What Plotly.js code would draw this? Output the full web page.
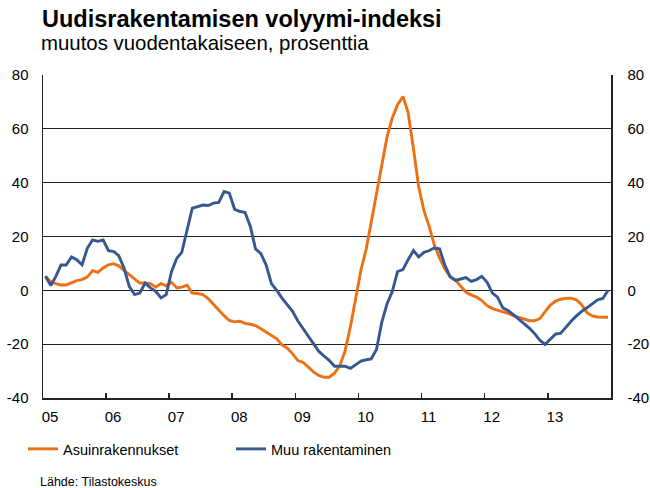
<!DOCTYPE html>
<html>
<head>
<meta charset="utf-8">
<script src="https://cdn.plot.ly/plotly-3.0.1.min.js"></script>
<style>html,body{margin:0;padding:0;background:#fff;}#chart{width:650px;height:488px;}</style>
</head>
<body>
<div id="chart"></div>
<script>
// Monthly data Jan 2005 – Dec 2013, % change year-on-year
var startYear = 2005;
var nMonths = 108;
var yearLabels = ['05','06','07','08','09','10','11','12','13'];
var yearTicks = ['2005-01-01','2006-01-01','2007-01-01','2008-01-01','2009-01-01','2010-01-01','2011-01-01','2012-01-01','2013-01-01'];
var yTickVals = [-40, -20, 0, 20, 40, 60, 80];
var yTickText = ['-40', '-20', '0', '20', '40', '60', '80'];

var asuinrakennukset = [
  5.2, 3.3, 2.5, 2.0, 2.0, 2.7, 3.6, 4.0, 5.0, 7.3, 6.7, 8.3,
  9.5, 9.9, 9.1, 7.4, 5.8, 4.2, 2.7, 2.7, 2.5, 1.2, 2.5, 1.7,
  3.0, 0.9, 1.2, 1.9, -1.0, -1.2, -1.6, -3.1, -5.3, -7.1, -9.4, -11.2,
  -11.7, -11.5, -12.3, -12.6, -13.1, -14.3, -15.6, -16.8, -18.0, -20.3, -21.5, -23.5,
  -26.1, -26.8, -28.5, -30.3, -31.6, -32.3, -32.3, -30.8, -28.0, -22.5, -13.5, -2.5,
  7.5, 15.5, 25.5, 36.5, 47.5, 57.0, 64.0, 69.0, 72.0, 66.0, 52.5, 38.5,
  29.5, 23.5, 17.0, 12.0, 8.0, 5.2, 3.9, 1.6, -0.7, -1.7, -2.5, -3.8,
  -5.7, -6.8, -7.4, -7.8, -8.6, -9.4, -10.1, -10.8, -11.3, -11.3, -10.5, -8.0,
  -5.5, -4.0, -3.3, -3.0, -2.9, -3.5, -5.3, -8.3, -9.5, -9.9, -10.0, -10.0
];

var muuRakentaminen = [
  5.2, 1.8, 5.0, 9.4, 9.4, 12.4, 11.4, 9.5, 15.7, 18.7, 18.2, 18.7,
  14.7, 14.4, 12.9, 8.3, 1.5, -1.6, -1.0, 2.7, 0.9, -0.4, -2.8, -1.6,
  7.0, 12.0, 14.1, 22.5, 30.5, 31.1, 31.7, 31.5, 32.4, 32.7, 36.7, 36.1,
  30.1, 29.3, 29.0, 23.7, 15.4, 13.6, 9.5, 2.5, 0.0, -2.9, -5.5, -7.8,
  -11.4, -14.3, -17.0, -20.0, -22.6, -24.4, -26.0, -28.2, -28.1, -28.2, -29.0, -27.5,
  -26.3, -25.8, -25.5, -22.0, -12.0, -5.0, -0.5, 7.0, 7.7, 11.4, 14.8, 12.4,
  14.1, 14.8, 15.7, 15.4, 9.5, 5.0, 3.7, 4.2, 4.7, 3.3, 4.0, 5.2,
  3.0, -1.0, -2.5, -6.5, -7.5, -9.0, -10.6, -12.2, -14.0, -16.0, -18.5, -20.1,
  -18.2, -16.2, -16.0, -13.5, -11.5, -9.5, -7.8, -6.5, -4.8, -3.5, -3.0, 0.0
];

var months = [];
for (var i = 0; i < nMonths; i++) {
  var yy = startYear + Math.floor(i / 12);
  var mm = (i % 12) + 1;
  months.push(yy + '-' + (mm < 10 ? '0' + mm : mm) + '-15');
}

var FONT = 'Liberation Sans, Arial, sans-serif';
var ORANGE = '#EC7014';
var BLUE = '#34588F';

var traces = [
  {x: months, y: asuinrakennukset, type: 'scatter', mode: 'lines', name: 'Asuinrakennukset',
   line: {color: ORANGE, width: 2.9}},
  {x: months, y: muuRakentaminen, type: 'scatter', mode: 'lines', name: 'Muu rakentaminen',
   line: {color: BLUE, width: 2.9}},
  {x: [], y: [], type: 'scatter', mode: 'lines', yaxis: 'y2', showlegend: false, hoverinfo: 'skip'}
];

var layout = {
  width: 650, height: 488,
  margin: {l: 43, r: 39, t: 75, b: 90},
  paper_bgcolor: '#fff', plot_bgcolor: '#fff',
  font: {family: FONT, color: '#000', size: 15},
  showlegend: true,
  title: {
    text: '<b>Uudisrakentamisen volyymi-indeksi</b>',
    x: 42/650, xref: 'container', xanchor: 'left',
    y: 1 - 18.5/488, yref: 'container', yanchor: 'middle',
    font: {family: FONT, size: 23.5, color: '#000'}
  },
  xaxis: {
    type: 'date',
    range: ['2005-01-01', '2014-01-01'],
    tickmode: 'array', tickvals: yearTicks, ticktext: yearLabels,
    ticks: 'inside', ticklen: 5, tickwidth: 1.5, tickcolor: '#222',
    ticklabelshift: 7, ticklabelstandoff: 4,
    showline: true, linecolor: '#222', linewidth: 1.5,
    showgrid: false, zeroline: false,
    tickfont: {family: FONT, size: 15, color: '#000'}
  },
  yaxis: {
    range: [-40, 80],
    tickmode: 'array', tickvals: yTickVals, ticktext: yTickText,
    showline: true, linecolor: '#222', linewidth: 1.5,
    showgrid: true, gridcolor: '#222', gridwidth: 1.2,
    zeroline: true, zerolinecolor: '#222', zerolinewidth: 1.2,
    ticks: '', ticklabelstandoff: 10,
    tickfont: {family: FONT, size: 15, color: '#000'}
  },
  yaxis2: {
    range: [-40, 80],
    tickmode: 'array', tickvals: yTickVals, ticktext: yTickText,
    overlaying: 'y', side: 'right',
    showline: true, linecolor: '#222', linewidth: 1.5,
    showgrid: false, zeroline: false,
    ticks: '', ticklabelstandoff: 12,
    tickfont: {family: FONT, size: 15, color: '#000'}
  },
  legend: {
    orientation: 'h',
    x: (23 - 43) / 568, xanchor: 'left',
    y: (398 - 449) / 323.3, yanchor: 'middle',
    font: {family: FONT, size: 14.5, color: '#000'},
    bgcolor: 'rgba(0,0,0,0)',
    entrywidth: 163, entrywidthmode: 'pixels'
  },
  annotations: [
    {text: 'muutos vuodentakaiseen, prosenttia', xref: 'paper', yref: 'paper',
     x: (39 - 43) / 568, xanchor: 'left', y: (398 - 43) / 323.3, yanchor: 'middle',
     showarrow: false, font: {family: FONT, size: 20.4, color: '#000'}},
    {text: 'Lähde: Tilastokeskus', xref: 'paper', yref: 'paper',
     x: (38 - 43) / 568, xanchor: 'left', y: (398 - 482) / 323.3, yanchor: 'middle',
     showarrow: false, font: {family: FONT, size: 12.5, color: '#000'}}
  ]
};

Plotly.newPlot('chart', traces, layout, {displayModeBar: false, staticPlot: true});
</script>
</body>
</html>
